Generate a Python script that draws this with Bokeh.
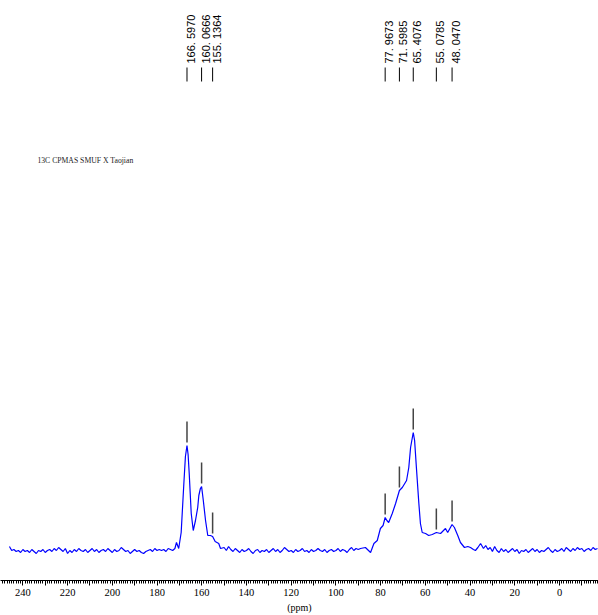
import numpy as np
from bokeh.plotting import figure
from bokeh.models import Range1d, FixedTicker, Label, ColumnDataSource
from bokeh.embed import file_html
from bokeh.resources import INLINE
from bokeh.core.properties import value

# ---- spectrum data (ppm, intensity) ----
left_ppm = list(range(246, 171, -1))
left_int = [4, 0, 1, -1, 0, -2, 1, -1, 0, -2, 1, -1, -3, 0, -1, 1, -2, 0, 1, -1,
            2, 0, 3, 1, -1, 2, -3, 0, -2, 1, -1, 2, 0, -1, 1, -2, 0, 2, -1, 1,
            -2, 0, 1, -1, 2, 0, -2, 1, -1, 0, 3, 1, -1, 0, -3, -1, 1, -1, 0, -2,
            -3, -1, 0, 1, -1, 2, 0, 1, 0, 1, -1, 2, 1, 0, 2]

peak1_ppm = [171.3, 170.3, 169.2, 168.0, 167.3, 166.6, 166.1, 165.6, 164.7, 163.8,
             162.8, 161.8, 161.3, 160.6, 160.07, 159.3, 158.3, 157.3, 156.1, 155.14,
             154.0, 152.4, 151.6]
peak1_int = [8, 2, 18, 67, 94, 105, 96, 77, 37, 20,
             30, 43, 55, 62, 64, 50, 30, 15, 15, 14,
             9, 7, 2]

mid_ppm = list(range(150, 89, -1))
mid_int = [3, 0, 4, 1, -1, 2, 0, -2, 1, -1, 0, 2, -1, -3, 0, 1, -2, 0, -1, 1,
           -2, 0, 2, -1, 1, -2, 0, 3, 1, -1, 0, -2, 1, -1, 0, 2, -1, 0, -2, 1,
           -1, 0, 2, 0, -1, 1, -2, 0, 1, -1, 0, 2, -1, 1, 0, -2, 1, 3, 0, 2, 1]

peak2_ppm = [89.0, 86.8, 84.5, 83.0, 81.5, 80.1, 78.9, 77.97, 77.2, 76.4,
             74.8, 73.3, 71.6, 70.3, 68.4, 67.4, 66.6, 65.41, 64.8, 64.0,
             62.9, 62.2, 61.4, 59.9, 58.5, 56.9, 55.08, 53.2, 51.0, 50.0,
             48.05, 47.0, 45.5, 44.3, 42.5, 41.0, 39.8, 38.5, 37.6, 36.5, 35.3]
peak2_int = [2, 3, -2, 7, 10, 22, 25, 33, 30, 28,
             37, 47, 60, 63, 70, 83, 103, 118, 110, 83,
             47, 27, 18, 17, 15, 16, 18, 17, 22, 18,
             26, 23, 15, 8, 3, 4, 3, 1, 0, 3, 7]

right_ppm = list(range(34, -18, -1))
right_int = [2, 5, 1, 3, -1, 4, 0, -2, 2, -1, 1, -2, 0, 2, -1, 1, -3, 0, -1, 1,
             -2, 0, 2, -1, 1, -2, 0, -1, 1, 3, 0, -2, 1, -1, 0, 2, -1, 3, 1, -1,
             2, 0, 3, 1, 2, -1, 1, 2, 0, 3, 1, 2]

# ---- peak picks ----
peak_ppm = [166.5970, 160.0666, 155.1364, 77.9673, 71.5985, 65.4076, 55.0785, 48.0470]
peak_height = [105, 64, 14, 33, 60, 118, 18, 26]
peak_text = ["166. 5970", "160. 0666", "155. 1364", "77. 9673", "71. 5985",
             "65. 4076", "55. 0785", "48. 0470"]

title_text = "13C CPMAS SMUF X Taojian"
axis_title = "(ppm)"
major_ticks = list(range(-10, 250, 10))
minor_ticks = list(range(-17, 250, 1))

ppm = left_ppm + peak1_ppm + mid_ppm + peak2_ppm + right_ppm
inten = left_int + peak1_int + mid_int + peak2_int + right_int

p = figure(width=598, height=615, output_backend="svg", toolbar_location=None,
           x_range=Range1d(250.0, -17.44), y_range=Range1d(-30, 550),
           y_axis_location=None, min_border_left=0, min_border_right=0,
           min_border_top=0, min_border_bottom=35)
p.outline_line_color = None
p.grid.visible = False
p.background_fill_color = "white"
p.border_fill_color = "white"

p.line(ppm, inten, line_color="#0000FF", line_width=1.2)

# peak markers above the curve
src = ColumnDataSource(dict(x=peak_ppm,
                            y0=[h + 3 for h in peak_height],
                            y1=[h + 24 for h in peak_height]))
p.segment(x0="x", y0="y0", x1="x", y1="y1", source=src,
          line_color="#444444", line_width=1.5)

# top labels
n = len(peak_ppm)
p.segment(x0=peak_ppm, y0=[469] * n, x1=peak_ppm, y1=[483] * n,
          line_color="black", line_width=1)
p.text(x=peak_ppm, y=[487] * n, text=peak_text, angle=np.pi / 2,
       text_align="left", text_baseline="middle", x_offset=4,
       text_font=value("Liberation Sans"), text_font_size="11px", text_color="black")

p.add_layout(Label(x=233.5, y=390, text=title_text, text_baseline="middle",
                   text_font="Liberation Serif", text_font_size="7.7px",
                   text_color="#222222"))

ax = p.xaxis[0]
ax.ticker = FixedTicker(ticks=major_ticks, minor_ticks=minor_ticks)
ax.major_label_overrides = {t: "" for t in major_ticks if t % 20 != 0}
ax.axis_line_color = "black"
ax.major_tick_line_color = "black"
ax.minor_tick_line_color = "black"
ax.major_tick_in = 0
ax.major_tick_out = 5
ax.minor_tick_in = 0
ax.minor_tick_out = 3
ax.major_label_standoff = 3
ax.major_label_text_font = "Liberation Sans Narrow"
ax.major_label_text_font_size = "10.5px"
ax.major_label_text_color = "black"
ax.axis_label = axis_title
ax.axis_label_standoff = 3
ax.axis_label_text_font = "Liberation Sans Narrow"
ax.axis_label_text_font_size = "10px"
ax.axis_label_text_font_style = "normal"
ax.axis_label_text_color = "black"

open("out.html", "w").write(file_html(p, INLINE))
